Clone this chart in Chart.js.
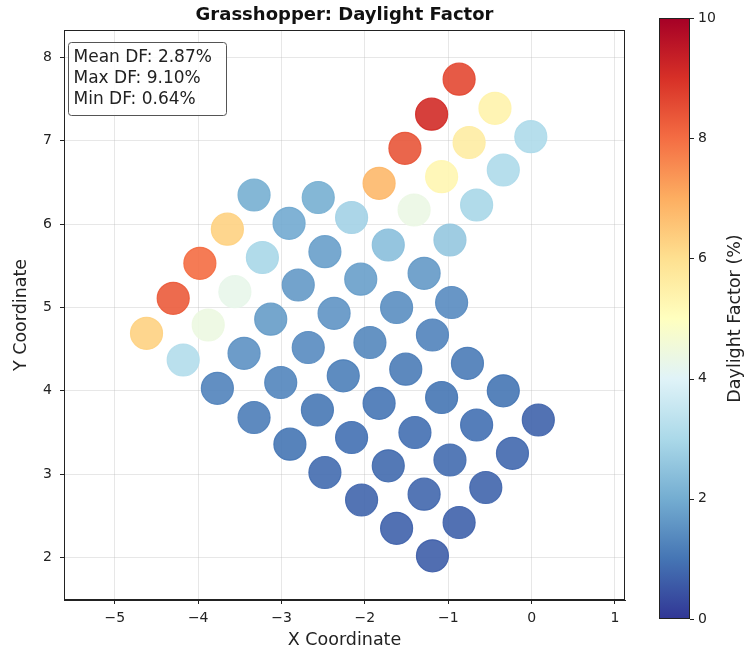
<!DOCTYPE html>
<html>
<head>
<meta charset="utf-8">
<script src="https://cdn.jsdelivr.net/npm/chart.js@4.4.1/dist/chart.umd.min.js"></script>
<style>
    html, body { margin: 0; padding: 0; background: #fff; }
</style>
</head>
<body>
<canvas id="dfChart" width="748" height="656"></canvas>
<script>
// sensor points, row by row from the bottom-right
const xCoords = [
    -1.19, -0.87, -0.55, -0.23, 0.08,
    -1.62, -1.29, -0.98, -0.66, -0.34,
    -2.04, -1.72, -1.40, -1.08, -0.77,
    -2.48, -2.16, -1.83, -1.51, -1.19, -0.96,
    -2.90, -2.57, -2.26, -1.94, -1.62, -1.29, -0.98, -0.66, -0.34, -0.01,
    -3.33, -3.01, -2.68, -2.37, -2.05, -1.72, -1.41, -1.08, -0.75, -0.44,
    -3.77, -3.45, -3.13, -2.80, -2.48, -2.16, -1.83, -1.52, -1.20, -0.87,
    -4.18, -3.88, -3.56, -3.23, -2.91, -2.56,
    -4.62, -4.30, -3.98, -3.65, -3.33
];
const yCoords = [
    2.02, 2.42, 2.84, 3.25, 3.65,
    2.35, 2.76, 3.17, 3.59, 4.00,
    2.69, 3.10, 3.50, 3.92, 4.33,
    3.02, 3.44, 3.85, 4.26, 4.67, 5.06,
    3.36, 3.77, 4.18, 4.58, 5.00, 5.41, 5.81, 6.23, 6.65, 7.05,
    3.68, 4.10, 4.52, 4.93, 5.34, 5.75, 6.17, 6.57, 6.98, 7.39,
    4.03, 4.45, 4.86, 5.27, 5.67, 6.08, 6.49, 6.91, 7.32, 7.74,
    4.37, 4.79, 5.19, 5.60, 6.01, 6.32,
    4.69, 5.11, 5.53, 5.94, 6.35
];
const dfValues = [
    0.64, 0.70, 0.75, 0.80, 0.72,
    0.70, 0.78, 0.85, 0.92, 1.00,
    0.75, 0.82, 0.90, 1.00, 1.10,
    0.85, 0.92, 1.02, 1.12, 1.25, 1.40,
    1.00, 1.05, 1.18, 1.32, 1.45, 1.65, 2.60, 2.95, 3.05, 3.05,
    1.15, 1.28, 1.40, 1.55, 1.75, 2.40, 4.35, 5.30, 5.60, 5.40,
    1.25, 1.50, 1.70, 1.65, 1.75, 2.85, 6.80, 8.40, 9.10, 8.60,
    3.15, 4.40, 4.25, 2.95, 1.95, 2.05,
    6.30, 8.30, 8.00, 6.30, 2.05
];
const xTicks = [-5, -4, -3, -2, -1, 0, 1];
const yTicks = [2, 3, 4, 5, 6, 7, 8];
const cbTicks = [0, 2, 4, 6, 8, 10];
const statsLines = ['Mean DF: 2.87%', 'Max DF: 9.10%', 'Min DF: 0.64%'];
const chartTitle = 'Grasshopper: Daylight Factor';
const cbLabel = 'Daylight Factor (%)';

const dfMin = 0, dfMax = 10;
const FONT = '"DejaVu Sans", sans-serif';

// RdYlBu_r
const palette = ['#313695', '#4575b4', '#74add1', '#abd9e9', '#e0f3f8', '#ffffbf',
                 '#fee090', '#fdae61', '#f46d43', '#d73027', '#a50026'];

function hexRgb(h) {
    return [parseInt(h.substr(1, 2), 16), parseInt(h.substr(3, 2), 16), parseInt(h.substr(5, 2), 16)];
}

function cmap(v, alpha) {
    let t = (v - dfMin) / (dfMax - dfMin);
    t = Math.max(0, Math.min(1, t));
    const pos = t * (palette.length - 1);
    const i = Math.min(Math.floor(pos), palette.length - 2);
    const f = pos - i;
    const c0 = hexRgb(palette[i]), c1 = hexRgb(palette[i + 1]);
    const c = c0.map((c, k) => Math.round(c + (c1[k] - c) * f));
    return 'rgba(' + c[0] + ',' + c[1] + ',' + c[2] + ',' + alpha + ')';
}

function minusSign(v) {
    return String(v).replace('-', '\u2212');
}

// title, frame, stats box and colorbar
const decorPlugin = {
    id: 'decor',
    afterDraw(chart) {
        const ctx = chart.ctx;
        const a = chart.chartArea;
        ctx.save();

        // top / right spines
        ctx.strokeStyle = '#222';
        ctx.lineWidth = 1;
        ctx.strokeRect(a.left + 0.5, a.top + 0.5, a.right - a.left - 1, a.bottom - a.top - 1);

        // title
        ctx.fillStyle = '#111';
        ctx.font = 'bold 18px ' + FONT;
        ctx.textAlign = 'center';
        ctx.textBaseline = 'middle';
        ctx.fillText(chartTitle, (a.left + a.right) / 2, 15);

        // stats box
        const bx = a.left + 4.5, by = a.top + 12.5, bw = 158, bh = 73;
        ctx.beginPath();
        ctx.roundRect(bx, by, bw, bh, 3);
        ctx.fillStyle = 'rgba(255,255,255,0.85)';
        ctx.fill();
        ctx.strokeStyle = '#555';
        ctx.stroke();
        ctx.fillStyle = '#222';
        ctx.font = '17px ' + FONT;
        ctx.textAlign = 'left';
        statsLines.forEach((s, i) => ctx.fillText(s, bx + 5, by + 15 + i * 21));

        // colorbar
        const cb = { left: 659, right: 690, top: 18, bottom: 619 };
        const grad = ctx.createLinearGradient(0, cb.bottom, 0, cb.top);
        palette.forEach((c, i) => grad.addColorStop(i / (palette.length - 1), c));
        ctx.fillStyle = grad;
        ctx.fillRect(cb.left, cb.top, cb.right - cb.left, cb.bottom - cb.top);
        ctx.strokeStyle = '#222';
        ctx.strokeRect(cb.left + 0.5, cb.top + 0.5, cb.right - cb.left - 1, cb.bottom - cb.top - 1);

        ctx.font = '14px ' + FONT;
        ctx.fillStyle = '#222';
        ctx.textAlign = 'left';
        cbTicks.forEach(v => {
            const y = cb.bottom - (v - dfMin) / (dfMax - dfMin) * (cb.bottom - cb.top);
            ctx.beginPath();
            ctx.moveTo(cb.right, Math.round(y) + 0.5);
            ctx.lineTo(cb.right + 4, Math.round(y) + 0.5);
            ctx.stroke();
            ctx.fillText(String(v), cb.right + 8, y);
        });

        ctx.translate(735, (cb.top + cb.bottom) / 2);
        ctx.rotate(-Math.PI / 2);
        ctx.textAlign = 'center';
        ctx.font = '17.5px ' + FONT;
        ctx.fillText(cbLabel, 0, 0);

        ctx.restore();
    }
};

const points = xCoords.map((x, i) => ({ x: x, y: yCoords[i] }));

const ctx = document.getElementById('dfChart').getContext('2d');
const dfChart = new Chart(ctx, {
    type: 'scatter',
    data: {
        datasets: [{
            data: points,
            backgroundColor: dfValues.map(v => cmap(v, 0.9)),
            borderColor: dfValues.map(v => cmap(v, 0.9)),
            borderWidth: 1.2,
            pointRadius: 16,
            pointHoverRadius: 16
        }]
    },
    options: {
        responsive: false,
        animation: false,
        events: [],
        layout: {
            padding: { top: 30, right: 123, left: 0, bottom: 0 }
        },
        plugins: {
            legend: { display: false },
            tooltip: { enabled: false }
        },
        scales: {
            x: {
                type: 'linear',
                min: -5.61,
                max: 1.12,
                afterBuildTicks: s => { s.ticks = xTicks.map(v => ({ value: v })); },
                afterFit: s => { s.height = 56; },
                grid: { color: 'rgba(176,176,176,0.3)', tickColor: '#222', tickLength: 4 },
                border: { color: '#222' },
                ticks: {
                    color: '#222',
                    padding: 6,
                    font: { family: FONT, size: 14 },
                    callback: v => minusSign(v)
                },
                title: {
                    display: true,
                    text: 'X Coordinate',
                    color: '#222',
                    font: { family: FONT, size: 17.5 },
                    padding: { top: 0, bottom: 5 }
                }
            },
            y: {
                type: 'linear',
                min: 1.49,
                max: 8.33,
                afterBuildTicks: s => { s.ticks = yTicks.map(v => ({ value: v })); },
                afterFit: s => { s.width = 64; },
                grid: { color: 'rgba(176,176,176,0.3)', tickColor: '#222', tickLength: 4 },
                border: { color: '#222' },
                ticks: {
                    color: '#222',
                    padding: 8,
                    font: { family: FONT, size: 14 },
                    callback: v => minusSign(v)
                },
                title: {
                    display: true,
                    text: 'Y Coordinate',
                    color: '#222',
                    font: { family: FONT, size: 17.5 },
                    padding: { top: 11, bottom: 0 }
                }
            }
        }
    },
    plugins: [decorPlugin]
});
</script>
</body>
</html>
